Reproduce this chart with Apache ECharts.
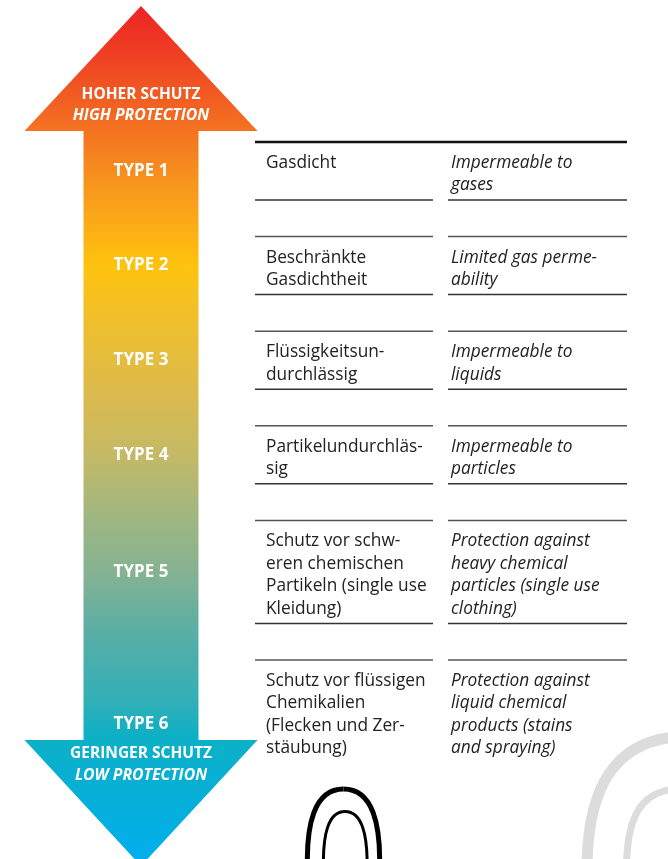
<!DOCTYPE html>
<html><head><meta charset="utf-8">
<script src="https://cdn.jsdelivr.net/npm/echarts@6/dist/echarts.min.js"></script>
<style>html,body{margin:0;padding:0;background:#fff}#c{width:668px;height:859px}</style>
</head><body><div id="c"></div>
<script>
// ---- data ----
const types = ['TYPE 1', 'TYPE 2', 'TYPE 3', 'TYPE 4', 'TYPE 5', 'TYPE 6'];
const germanText = [
  ['Gasdicht'],
  ['Beschränkte', 'Gasdichtheit'],
  ['Flüssigkeitsun-', 'durchlässig'],
  ['Partikelundurchläs-', 'sig'],
  ['Schutz vor schw-', 'eren chemischen', 'Partikeln (single use', 'Kleidung)'],
  ['Schutz vor flüssigen', 'Chemikalien', '(Flecken und Zer-', 'stäubung)']
];
const englishText = [
  ['Impermeable to', 'gases'],
  ['Limited gas perme-', 'ability'],
  ['Impermeable to', 'liquids'],
  ['Impermeable to', 'particles'],
  ['Protection against', 'heavy chemical', 'particles (single use', 'clothing)'],
  ['Protection against', 'liquid chemical', 'products (stains', 'and spraying)']
];
const topLabel = ['HOHER SCHUTZ', 'HIGH PROTECTION'];
const bottomLabel = ['GERINGER SCHUTZ', 'LOW PROTECTION'];

// ---- layout (page units on hidden axes) ----
const W = 668, H = 859;
const FONT = '"Open Sans", "Noto Sans", sans-serif';
const colL = { x0: 255, x1: 433, tx: 266 };
const colR = { x0: 448, x1: 627, tx: 451 };
const tableTop = 142, lineH = 22.4, firstLine = 21, rowGap = 36.6;
const arrow = { cx: 141, apex: 6, headBase: 131, tailBase: 740, tip: 866, halfHead: 116.5, halfShaft: 57.5 };

// decorative curves (start, cp1, cp2, end) at the bottom of the page
const decoCurves = [
  { pts: [[307.5, 870], [306, 825], [314, 789], [343.5, 789]], stroke: '#000', w: 5 },
  { pts: [[343.5, 789], [373, 789], [381, 825], [379.5, 870]], stroke: '#000', w: 5 },
  { pts: [[323.5, 870], [322.5, 835], [328, 811.5], [345, 811.5]], stroke: '#000', w: 3 },
  { pts: [[345, 811.5], [362, 811.5], [368, 835], [367, 870]], stroke: '#000', w: 3 },
  { pts: [[587, 870], [587, 780], [620, 742], [675, 737]], stroke: '#dcdcdc', w: 11 },
  { pts: [[626.5, 870], [626.5, 815], [642, 792], [675, 789]], stroke: '#dcdcdc', w: 7 }
];

const rows = [];
let y = tableTop;
types.forEach((t, i) => {
  const n = Math.max(2, germanText[i].length, englishText[i].length);
  const h = 58 + (n - 2) * 22.5;
  const last = i === types.length - 1;
  rows.push({ top: y, bottom: y + h, n, labelY: last ? arrow.tailBase - 16 : y + h / 2, last });
  y += h + rowGap;
});

function seg(P, x0, x1, yy, stroke, w) {
  const a = P(x0, yy), b = P(x1, yy);
  return { type: 'line', shape: { x1: a[0], y1: a[1], x2: b[0], y2: b[1] }, style: { stroke, lineWidth: w } };
}
function txt(P, x, yy, s, font, fill, align) {
  const p = P(x, yy);
  return { type: 'text', style: { x: p[0], y: p[1], text: s, font, fill, align: align || 'left', verticalAlign: 'middle' } };
}

const chart = echarts.init(document.getElementById('c'), null, { renderer: 'canvas' });
chart.setOption({
  animation: false,
  grid: { left: 0, right: 0, top: 0, bottom: 0 },
  xAxis: { type: 'value', min: 0, max: W, show: false },
  yAxis: { type: 'value', min: 0, max: H, inverse: true, show: false },
  series: [
    {
      type: 'custom', name: 'deco', coordinateSystem: 'cartesian2d', silent: true, clip: false,
      data: decoCurves.map((d, i) => [i]),
      renderItem: function (params, api) {
        const d = decoCurves[api.value(0)];
        const p = d.pts.map(q => api.coord(q));
        return { type: 'bezierCurve', shape: { x1: p[0][0], y1: p[0][1], cpx1: p[1][0], cpy1: p[1][1], cpx2: p[2][0], cpy2: p[2][1], x2: p[3][0], y2: p[3][1] },
                 style: { fill: null, stroke: d.stroke, lineWidth: d.w } };
      }
    },
    {
      type: 'custom', name: 'arrow', coordinateSystem: 'cartesian2d', silent: true, clip: false,
      data: [[0]],
      renderItem: function (params, api) {
        const P = (x, yy) => api.coord([x, yy]);
        const a = arrow, c = a.cx;
        const pts = [
          [c, a.apex], [c + a.halfHead, a.headBase], [c + a.halfShaft, a.headBase], [c + a.halfShaft, a.tailBase],
          [c + a.halfHead, a.tailBase], [c, a.tip], [c - a.halfHead, a.tailBase], [c - a.halfShaft, a.tailBase],
          [c - a.halfShaft, a.headBase], [c - a.halfHead, a.headBase]
        ].map(p => P(p[0], p[1]));
        const grad = { type: 'linear', x: 0, y: 0, x2: 0, y2: 1, colorStops: [
          { offset: 0, color: '#ED2224' }, { offset: 0.063, color: '#EF4323' }, { offset: 0.133, color: '#F36C22' },
          { offset: 0.214, color: '#F8991D' }, { offset: 0.301, color: '#FFC20E' }, { offset: 0.377, color: '#EDBE31' },
          { offset: 0.458, color: '#D9BA50' }, { offset: 0.523, color: '#C4B966' }, { offset: 0.574, color: '#A9B77B' },
          { offset: 0.659, color: '#85B292' }, { offset: 0.737, color: '#55AEA8' }, { offset: 0.807, color: '#33AFB7' },
          { offset: 0.848, color: '#0DB0C5' }, { offset: 0.923, color: '#06AFD9' }, { offset: 1, color: '#00AEEF' }
        ] };
        const bold = 'bold 15.5px ' + FONT, boldIt = 'italic bold 15.8px ' + FONT;
        return {
          type: 'group', children: [
            { type: 'polygon', shape: { points: pts }, style: { fill: grad } },
            txt(P, c, 95, topLabel[0], bold, '#fff', 'center'),
            txt(P, c, 115, topLabel[1], boldIt, '#fff', 'center'),
            txt(P, c, 754, bottomLabel[0], bold, '#fff', 'center'),
            txt(P, c, 775, bottomLabel[1], boldIt, '#fff', 'center')
          ]
        };
      }
    },
    {
      type: 'custom', name: 'rows', coordinateSystem: 'cartesian2d', silent: true, clip: false,
      data: types.map((t, i) => [i]),
      renderItem: function (params, api) {
        const i = api.value(0);
        const r = rows[i];
        const P = (x, yy) => api.coord([x, yy]);
        const ch = [];
        if (i === 0) ch.push(seg(P, colL.x0, colR.x1, r.top, '#111', 2.5));
        else { ch.push(seg(P, colL.x0, colL.x1, r.top, '#555', 1.5)); ch.push(seg(P, colR.x0, colR.x1, r.top, '#555', 1.5)); }
        if (!r.last) { ch.push(seg(P, colL.x0, colL.x1, r.bottom, '#333', 1.5)); ch.push(seg(P, colR.x0, colR.x1, r.bottom, '#333', 1.5)); }
        const f = '17.3px ' + FONT, fi = 'italic 17.3px ' + FONT;
        germanText[i].forEach((s, k) => ch.push(txt(P, colL.tx, r.top + firstLine + k * lineH, s, f, '#222')));
        englishText[i].forEach((s, k) => ch.push(txt(P, colR.tx, r.top + firstLine + k * lineH, s, fi, '#222')));
        ch.push(txt(P, arrow.cx, r.labelY, types[i], 'bold 17px ' + FONT, '#fff', 'center'));
        return { type: 'group', children: ch };
      }
    }
  ]
});
</script></body></html>
